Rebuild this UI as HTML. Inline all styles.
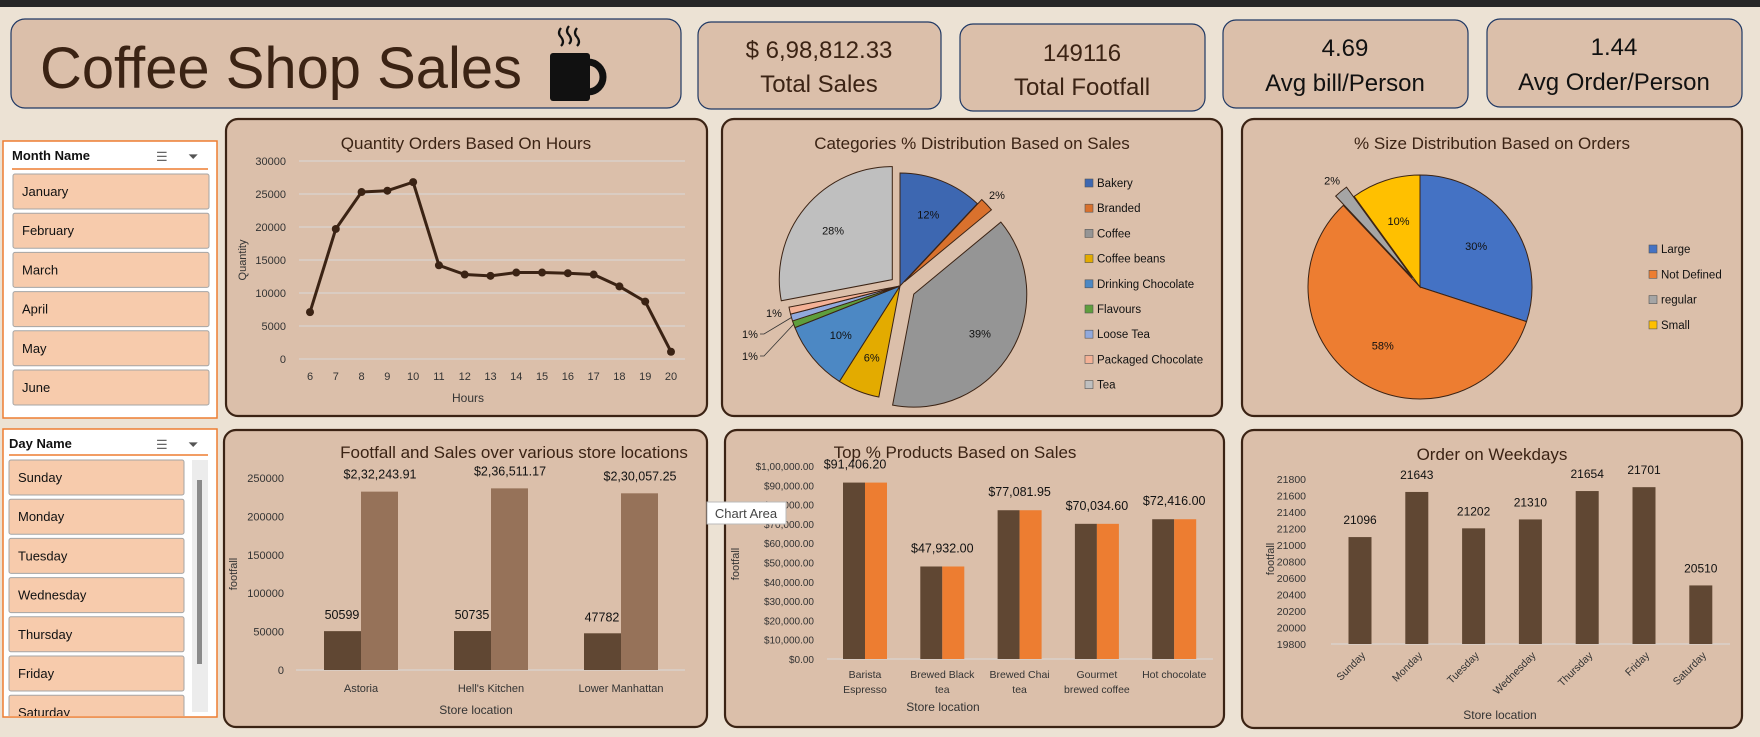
<!DOCTYPE html>
<html><head><meta charset="utf-8">
<style>
html,body{margin:0;padding:0;width:1760px;height:737px;overflow:hidden;background:#ECE2D4;font-family:"Liberation Sans",sans-serif;}
svg text{font-family:"Liberation Sans",sans-serif;}
</style></head>
<body>
<svg id="dash" width="1760" height="737" viewBox="0 0 1760 737" xmlns="http://www.w3.org/2000/svg">
<defs><clipPath id="dayClip"><rect x="4" y="456" width="186" height="260"/></clipPath></defs>
<rect x="0" y="0" width="1760" height="737" fill="#ECE2D4"/>
<rect x="0" y="0" width="1760" height="7" fill="#262626"/>

<g>
<rect x="11" y="19" width="670" height="89" rx="14" fill="#DBBFAA" stroke="#1F3864" stroke-width="1.2"/>
<text x="40" y="88" font-size="58" fill="#3B2314" textLength="482" lengthAdjust="spacingAndGlyphs">Coffee Shop Sales</text>
<g>
<rect x="550" y="53" width="40" height="48" rx="3" fill="#111"/>
<path d="M588 62 a14 14 0 0 1 0 30" fill="none" stroke="#111" stroke-width="7"/>
<path d="M561 28 q-4 5 0 9 q4 5 0 9 M569 26 q-4 5 0 9 q4 5 0 9 M577 28 q-4 5 0 9 q4 5 0 9" fill="none" stroke="#111" stroke-width="2.2"/>
</g>
</g>

<g>
<rect x="698" y="22" width="243" height="87" rx="13" fill="#DBBFAA" stroke="#1F3864" stroke-width="1.2"/>
<text x="819" y="58" font-size="24" fill="#3B2314" text-anchor="middle">$ 6,98,812.33</text>
<text x="819" y="92" font-size="24" fill="#3B2314" text-anchor="middle">Total Sales</text>
</g>
<g>
<rect x="960" y="24" width="245" height="87" rx="13" fill="#DBBFAA" stroke="#1F3864" stroke-width="1.2"/>
<text x="1082" y="61" font-size="24" fill="#3B2314" text-anchor="middle">149116</text>
<text x="1082" y="95" font-size="24" fill="#3B2314" text-anchor="middle">Total Footfall</text>
</g>
<g>
<rect x="1223" y="20" width="245" height="88" rx="13" fill="#DBBFAA" stroke="#1F3864" stroke-width="1.2"/>
<text x="1345" y="56" font-size="24" fill="#111" text-anchor="middle">4.69</text>
<text x="1345" y="91" font-size="24" fill="#111" text-anchor="middle">Avg bill/Person</text>
</g>
<g>
<rect x="1487" y="19" width="255" height="88" rx="13" fill="#DBBFAA" stroke="#1F3864" stroke-width="1.2"/>
<text x="1614" y="55" font-size="24" fill="#111" text-anchor="middle">1.44</text>
<text x="1614" y="90" font-size="24" fill="#111" text-anchor="middle">Avg Order/Person</text>
</g>

<g>
<rect x="3" y="141" width="214" height="277" fill="#fff" stroke="#ED7D31" stroke-width="1.5"/>
<text x="12" y="160" font-size="13" font-weight="bold" fill="#111">Month Name</text>
<text x="156" y="161" font-size="13" fill="#666">☰</text>
<text x="188" y="161" font-size="13" fill="#555">⏷</text>
<line x1="12" y1="169" x2="208" y2="169" stroke="#ED7D31" stroke-width="1.5"/>
<g id="monthItems"></g>
</g>
<g>
<rect x="3" y="429" width="214" height="288" fill="#fff" stroke="#ED7D31" stroke-width="1.5"/>
<text x="9" y="448" font-size="13" font-weight="bold" fill="#111">Day Name</text>
<text x="156" y="449" font-size="13" fill="#666">☰</text>
<text x="188" y="449" font-size="13" fill="#555">⏷</text>
<line x1="9" y1="455" x2="208" y2="455" stroke="#ED7D31" stroke-width="1.5"/>
<rect x="192" y="460" width="16" height="252" fill="#ECECEC"/>
<rect x="197" y="480" width="5" height="184" fill="#8A8A8A"/>
<g id="dayItems" clip-path="url(#dayClip)"></g>
</g>

<g><rect x="226" y="119" width="481" height="297" rx="12" fill="#DBBFAA" stroke="#3B2314" stroke-width="2.2"/>
<text x="466" y="149" font-size="17" fill="#3B2314" text-anchor="middle">Quantity Orders Based On Hours</text>
<g id="lineChart"></g></g>
<g><rect x="722" y="119" width="500" height="297" rx="12" fill="#DBBFAA" stroke="#3B2314" stroke-width="2.2"/>
<text x="972" y="149" font-size="17" fill="#3B2314" text-anchor="middle">Categories % Distribution Based on Sales</text>
<g id="pie1"></g></g>
<g><rect x="1242" y="119" width="500" height="297" rx="12" fill="#DBBFAA" stroke="#3B2314" stroke-width="2.2"/>
<text x="1492" y="149" font-size="17" fill="#3B2314" text-anchor="middle">% Size Distribution Based on Orders</text>
<g id="pie2"></g></g>
<g><rect x="224" y="430" width="483" height="297" rx="12" fill="#DBBFAA" stroke="#3B2314" stroke-width="2.2"/>
<text x="514" y="458" font-size="17" fill="#3B2314" text-anchor="middle">Footfall and Sales over various store locations</text>
<g id="bar1"></g></g>
<g><rect x="725" y="430" width="499" height="297" rx="12" fill="#DBBFAA" stroke="#3B2314" stroke-width="2.2"/>
<text x="955" y="458" font-size="17" fill="#3B2314" text-anchor="middle">Top % Products Based on Sales</text>
<g id="bar2"></g></g>
<g><rect x="1242" y="430" width="500" height="298" rx="12" fill="#DBBFAA" stroke="#3B2314" stroke-width="2.2"/>
<text x="1492" y="460" font-size="17" fill="#3B2314" text-anchor="middle">Order on Weekdays</text>
<g id="bar3"></g></g>

<g>
<rect x="707" y="502" width="79" height="22" fill="#fff" stroke="#BBB"/>
<text x="746" y="518" font-size="13" fill="#444" text-anchor="middle">Chart Area</text>
</g>
</svg>
<script>
const months=["January","February","March","April","May","June"];
const days=["Sunday","Monday","Tuesday","Wednesday","Thursday","Friday","Saturday"];
const hours=[6,7,8,9,10,11,12,13,14,15,16,17,18,19,20];
const qty=[7100,19700,25300,25500,26800,14200,12800,12600,13100,13100,13000,12800,11000,8700,1100];
const qtyTicks=[0,5000,10000,15000,20000,25000,30000];
const catNames=["Bakery","Branded","Coffee","Coffee beans","Drinking Chocolate","Flavours","Loose Tea","Packaged Chocolate","Tea"];
const catPct=[12,2,39,6,10,1,1,1,28];
const sizeNames=["Large","Not Defined","regular","Small"];
const sizePct=[30,58,2,10];
const stores=["Astoria","Hell's Kitchen","Lower Manhattan"];
const storeFootfall=[50599,50735,47782];
const storeSales=[232243.91,236511.17,230057.25];
const storeSalesLabels=["$2,32,243.91","$2,36,511.17","$2,30,057.25"];
const storeTicks=[0,50000,100000,150000,200000,250000];
const products=[["Barista","Espresso"],["Brewed Black","tea"],["Brewed Chai","tea"],["Gourmet","brewed coffee"],["Hot chocolate"]];
const productSales=[91406.20,47932.00,77081.95,70034.60,72416.00];
const productLabels=["$91,406.20","$47,932.00","$77,081.95","$70,034.60","$72,416.00"];
const productTicks=["$0.00","$10,000.00","$20,000.00","$30,000.00","$40,000.00","$50,000.00","$60,000.00","$70,000.00","$80,000.00","$90,000.00","$1,00,000.00"];
const weekdayOrders=[21096,21643,21202,21310,21654,21701,20510];
const weekdayTicks=[19800,20000,20200,20400,20600,20800,21000,21200,21400,21600,21800];

const NS="http://www.w3.org/2000/svg";
function mk(tag,attrs,parent,txt){const e=document.createElementNS(NS,tag);for(const k in attrs)e.setAttribute(k,attrs[k]);if(txt!==undefined)e.textContent=txt;parent.appendChild(e);return e;}
const fmt=n=>String(n);

const mi=document.getElementById('monthItems');
months.forEach((m,i)=>{const y=174+i*39.2;
 const g=mk('g',{},mi);
 
 
 mk('rect',{x:13,y:y,width:196,height:35,rx:2,fill:'#F7CBAC',stroke:'#A5A5A5'},g);
 mk('text',{x:22,y:y+22,'font-size':13,fill:'#111'},g,m);});
const di=document.getElementById('dayItems');
days.forEach((d,i)=>{const y=460+i*39.2;
 const g=mk('g',{},di);
 
 
 mk('rect',{x:9,y:y,width:175,height:35,rx:2,fill:'#F7CBAC',stroke:'#A5A5A5'},g);
 mk('text',{x:18,y:y+22,'font-size':13,fill:'#111'},g,d);});

(function(){const g=document.getElementById('lineChart');
 const x0=299,x1=685,y0=359,y1=161,ymax=30000;
 const sx=h=>310+(h-6)*(671-310)/14, sy=v=>y0-(v/ymax)*(y0-y1);
 qtyTicks.forEach(t=>{mk('line',{x1:x0,x2:x1,y1:sy(t),y2:sy(t),stroke:'#D9D9D9','stroke-width':1},g);
  const tl=mk('text',{x:286,y:sy(t)+4,'font-size':11,fill:'#333','text-anchor':'end'},g,fmt(t));
  
  });
 hours.forEach(h=>{const tl=mk('text',{x:sx(h),y:380,'font-size':11,fill:'#333','text-anchor':'middle'},g,fmt(h));
  
  });
 const pts=hours.map((h,i)=>sx(h)+','+sy(qty[i])).join(' ');
 const pl=mk('polyline',{points:pts,fill:'none',stroke:'#3B2314','stroke-width':3,'stroke-linejoin':'round'},g);
 
 
 hours.forEach((h,i)=>{const c=mk('circle',{cx:sx(h),cy:sy(qty[i]),r:4,fill:'#3B2314'},g);
  
  });
 const xt=mk('text',{x:468,y:402,'font-size':12,fill:'#333','text-anchor':'middle'},g,'Hours');
 
 
 const yt=mk('text',{x:0,y:0,'font-size':11,fill:'#333','text-anchor':'middle',transform:'translate(246,260) rotate(-90)'},g,'Quantity');
 
 
})();

// leaderSpots: index -> [labelX,labelY] for small slices with leader lines
function pie(gid,names,vals,colors,cx,cy,r,explode,legX,legY,legStep,labelR,outsideIdx,leaderSpots){
 const g=document.getElementById(gid);const tot=vals.reduce((a,b)=>a+b,0);let acc=0;
 vals.forEach((v,i)=>{const a0=acc/tot*2*Math.PI;acc+=v;const a1=acc/tot*2*Math.PI;const am=(a0+a1)/2;
  const e=explode[i]||0;const ox=cx+e*Math.sin(am),oy=cy-e*Math.cos(am);
  const p=(a)=>[ox+r*Math.sin(a),oy-r*Math.cos(a)];const [xa,ya]=p(a0),[xb,yb]=p(a1);
  const large=(a1-a0)>Math.PI?1:0;
  const s=mk('path',{d:`M${ox},${oy} L${xa},${ya} A${r},${r} 0 ${large} 1 ${xb},${yb} Z`,fill:colors[i],stroke:'#3B2314','stroke-width':1},g);
  
  
  let lx,ly;
  if(leaderSpots && leaderSpots[i]){[lx,ly]=leaderSpots[i];
   const ex=ox+r*Math.sin(am),ey=oy-r*Math.cos(am);
   if(Math.hypot(ex-lx,ey-ly)>22) mk('polyline',{points:`${lx+10},${ly} ${lx+14},${ly} ${ex},${ey}`,fill:'none',stroke:'#333','stroke-width':0.8},g);
  } else {const out=outsideIdx.includes(i);const lr=out?r+14:r*labelR;
   lx=ox+lr*Math.sin(am);ly=oy-lr*Math.cos(am);}
  const t=mk('text',{x:lx,y:ly+4,'font-size':11,fill:'#111','text-anchor':'middle'},g,v+'%');
  
  
  const le=mk('g',{},g);
  
  
  mk('rect',{x:legX,y:legY+i*legStep-8,width:8,height:8,fill:colors[i],stroke:'#555','stroke-width':0.6},le);
  mk('text',{x:legX+12,y:legY+i*legStep,'font-size':11.5,fill:'#111'},le,names[i]);
 });}
pie('pie1',catNames,catPct,['#3D67B1','#D9712D','#959595','#E3AB00','#4C88C4','#5E9E3D','#91A9DC','#F4B196','#BFBFBF'],900,286,113,[0,6,16,0,0,0,0,0,10],1085,187,25.2,0.68,[1],{5:[750,356],6:[750,334],7:[774,313]});
pie('pie2',sizeNames,sizePct,['#4472C4','#ED7D31','#A5A5A5','#FFC000'],1420,287,112,[0,0,12,0],1649,253,25.3,0.62,[2]);

(function(){const g=document.getElementById('bar1');
 const y0=670,ytop=478,max=250000,sy=v=>y0-v/max*(y0-ytop);
 storeTicks.forEach(t=>{const tl=mk('text',{x:284,y:sy(t)+4,'font-size':11,fill:'#333','text-anchor':'end'},g,fmt(t));
  
  });
 mk('line',{x1:296,x2:685,y1:y0,y2:y0,stroke:'#D9D9D9'},g);
 stores.forEach((s,i)=>{const cx=361+i*130;
  const b1=mk('rect',{x:cx-37,y:sy(storeFootfall[i]),width:37,height:y0-sy(storeFootfall[i]),fill:'#604733'},g);
  
  
  const b2=mk('rect',{x:cx,y:sy(storeSales[i]),width:37,height:y0-sy(storeSales[i]),fill:'#967259'},g);
  
  
  mk('text',{x:cx-19,y:sy(storeFootfall[i])-12,'font-size':12.5,fill:'#111','text-anchor':'middle'},g,fmt(storeFootfall[i]));
  mk('text',{x:cx+19,y:sy(storeSales[i])-13,'font-size':12.5,fill:'#111','text-anchor':'middle'},g,storeSalesLabels[i]);
  mk('text',{x:cx,y:692,'font-size':11,fill:'#333','text-anchor':'middle'},g,s);});
 mk('text',{x:476,y:714,'font-size':12,fill:'#333','text-anchor':'middle'},g,'Store location');
 mk('text',{x:0,y:0,'font-size':11,fill:'#333','text-anchor':'middle',transform:'translate(237,574) rotate(-90)'},g,'footfall');
})();
(function(){const g=document.getElementById('bar2');
 const y0=659,ytop=466,max=100000,sy=v=>y0-v/max*(y0-ytop);
 productTicks.forEach((t,i)=>{const tl=mk('text',{x:814,y:sy(i*10000)+4,'font-size':10,fill:'#333','text-anchor':'end'},g,t);
  
  });
 mk('line',{x1:827,x2:1213,y1:y0,y2:y0,stroke:'#D9D9D9'},g);
 productSales.forEach((v,i)=>{const cx=865+i*77.3;
  const b1=mk('rect',{x:cx-22,y:sy(v),width:22,height:y0-sy(v),fill:'#604733'},g);
  
  
  const b2=mk('rect',{x:cx,y:sy(v),width:22,height:y0-sy(v),fill:'#ED7D31'},g);
  
  
  mk('text',{x:i===0?cx-10:cx,y:sy(v)-14,'font-size':12.5,fill:'#111','text-anchor':'middle'},g,productLabels[i]);
  products[i].forEach((ln,k)=>mk('text',{x:cx,y:678+k*15,'font-size':10.5,fill:'#333','text-anchor':'middle'},g,ln));});
 mk('text',{x:943,y:711,'font-size':12,fill:'#333','text-anchor':'middle'},g,'Store location');
 mk('text',{x:0,y:0,'font-size':11,fill:'#333','text-anchor':'middle',transform:'translate(739,564) rotate(-90)'},g,'footfall');
})();
(function(){const g=document.getElementById('bar3');
 const y0=644,ytop=479,mn=19800,mx=21800,sy=v=>y0-(v-mn)/(mx-mn)*(y0-ytop);
 weekdayTicks.forEach(t=>{const tl=mk('text',{x:1306,y:sy(t)+4,'font-size':10.5,fill:'#333','text-anchor':'end'},g,fmt(t));
  
  });
 mk('line',{x1:1331,x2:1730,y1:y0,y2:y0,stroke:'#D9D9D9'},g);
 weekdayOrders.forEach((v,i)=>{const cx=1360+i*56.8;
  const b=mk('rect',{x:cx-11.5,y:sy(v),width:23,height:y0-sy(v),fill:'#604733'},g);
  
  
  mk('text',{x:cx,y:sy(v)-13,'font-size':12,fill:'#111','text-anchor':'middle'},g,fmt(v));
  mk('text',{x:0,y:0,'font-size':10.5,fill:'#333','text-anchor':'end',transform:`translate(${cx+6},${656}) rotate(-45)`},g,days[i]);});
 mk('text',{x:1500,y:719,'font-size':12,fill:'#333','text-anchor':'middle'},g,'Store location');
 mk('text',{x:0,y:0,'font-size':11,fill:'#333','text-anchor':'middle',transform:'translate(1274,559) rotate(-90)'},g,'footfall');
})();
</script>
</body></html>
